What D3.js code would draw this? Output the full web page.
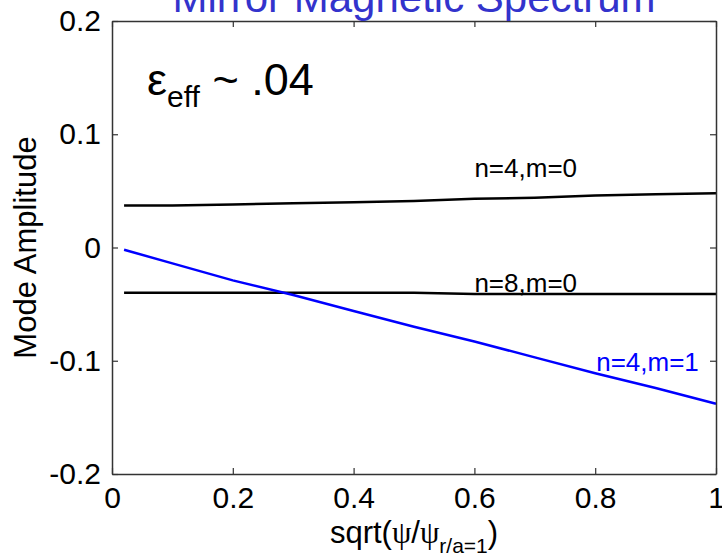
<!DOCTYPE html>
<html><head><meta charset="utf-8">
<script src="https://cdn.jsdelivr.net/npm/d3@7"></script>
<style>body{margin:0;background:#fff}svg{display:block}text{font-family:Arial,"Liberation Sans",Helvetica,sans-serif}</style>
</head><body>
<script>
const xTicks = [0, 0.2, 0.4, 0.6, 0.8, 1];
const yTicks = [-0.2, -0.1, 0, 0.1, 0.2];
const xTickLabels = ["0", "0.2", "0.4", "0.6", "0.8", "1"];
const yTickLabels = ["-0.2", "-0.1", "0", "0.1", "0.2"];
const xs = [0.02, 0.1, 0.2, 0.3, 0.4, 0.5, 0.6, 0.7, 0.8, 0.9, 1.0];
const n4m0 = [0.037, 0.037, 0.038, 0.039, 0.040, 0.041, 0.043, 0.044, 0.046, 0.047, 0.048];
const n8m0 = [-0.040, -0.040, -0.040, -0.040, -0.040, -0.040, -0.041, -0.041, -0.041, -0.041, -0.041];
const n4m1 = [-0.002, -0.014, -0.029, -0.042, -0.056, -0.070, -0.083, -0.097, -0.111, -0.124, -0.138];
const seriesNames = ["n=4,m=0", "n=8,m=0", "n=4,m=1"];
const seriesColors = ["#000000", "#000000", "#0000ff"];
const labelIndex = [6, 6, 8];
const titleText = "Mirror Magnetic Spectrum";

const W = 722, H = 556;
const m = {l: 112, t: 21, r: 6, b: 82};
const iw = W - m.l - m.r, ih = H - m.t - m.b;
const svg = d3.select("body").append("svg").attr("width", W).attr("height", H);
const x = d3.scaleLinear().domain([0, 1]).range([m.l, m.l + iw]);
const y = d3.scaleLinear().domain([-0.2, 0.2]).range([m.t + ih, m.t]);

// lines
const series = [n4m0, n8m0, n4m1];
const line = d3.line().x((d, i) => x(xs[i])).y(d => y(d));
series.forEach((s, k) => {
  svg.append("path").datum(s).attr("d", line).attr("fill", "none")
    .attr("stroke", seriesColors[k]).attr("stroke-width", 2.5);
});

// axes (box with inward ticks)
const axCol = "#333";
const gB = svg.append("g").attr("transform", `translate(0,${m.t + ih})`)
  .call(d3.axisBottom(x).tickValues(xTicks).tickFormat((d, i) => xTickLabels[i]).tickSizeInner(-6).tickSizeOuter(0).tickPadding(13));
const gT = svg.append("g").attr("transform", `translate(0,${m.t})`)
  .call(d3.axisTop(x).tickValues(xTicks).tickFormat("").tickSizeInner(-6).tickSizeOuter(0));
const gL = svg.append("g").attr("transform", `translate(${m.l},0)`)
  .call(d3.axisLeft(y).tickValues(yTicks).tickFormat((d, i) => yTickLabels[i]).tickSizeInner(-6).tickSizeOuter(0).tickPadding(11));
const gR = svg.append("g").attr("transform", `translate(${m.l + iw},0)`)
  .call(d3.axisRight(y).tickValues(yTicks).tickFormat("").tickSizeInner(-6).tickSizeOuter(0));
[gB, gT, gL, gR].forEach(g => {
  g.select(".domain").attr("stroke", axCol).attr("stroke-width", 1.5);
  g.selectAll(".tick line").attr("stroke", axCol).attr("stroke-width", 1.2);
  g.selectAll("text").attr("font-size", 30).attr("fill", "#000")
   .style("font-family", "Arial, 'Liberation Sans', sans-serif");
});

// series labels
const labelDy = [-22, -2, -2];
series.forEach((s, k) => {
  const i = labelIndex[k];
  svg.append("text")
    .attr("x", k === 2 ? x(xs[i]) + 1 : x(xs[i]))
    .attr("y", y(s[i]) + labelDy[k])
    .attr("font-size", 26).attr("fill", seriesColors[k]).text(seriesNames[k]);
});

// title
svg.append("text").attr("x", m.l + iw / 2).attr("y", 12).attr("text-anchor", "middle")
  .attr("font-size", 42).attr("fill", "#3333cc").text(titleText);

// epsilon annotation
const ann = svg.append("text").attr("x", 147).attr("y", 95).attr("font-size", 45).attr("fill", "#000");
ann.append("tspan").text("ε");
ann.append("tspan").attr("font-size", 30).attr("dy", 12).text("eff");
ann.append("tspan").attr("dy", -12).text(" ~ .04");

// axis titles
const xt = svg.append("text").attr("x", m.l + iw / 2).attr("y", 543).attr("text-anchor", "middle")
  .attr("font-size", 31).attr("fill", "#000");
xt.append("tspan").text("sqrt(");
xt.append("tspan").style("font-family", "'Liberation Serif', 'DejaVu Serif', serif").text("ψ");
xt.append("tspan").text("/");
xt.append("tspan").style("font-family", "'Liberation Serif', 'DejaVu Serif', serif").text("ψ");
xt.append("tspan").attr("font-size", 21).attr("dy", 10).text("r/a=1");
xt.append("tspan").attr("dy", -10).text(")");

svg.append("text").attr("transform", `translate(36,${m.t + ih / 2}) rotate(-90)`)
  .attr("text-anchor", "middle").attr("font-size", 31).attr("fill", "#000").text("Mode Amplitude");
</script>
</body></html>
